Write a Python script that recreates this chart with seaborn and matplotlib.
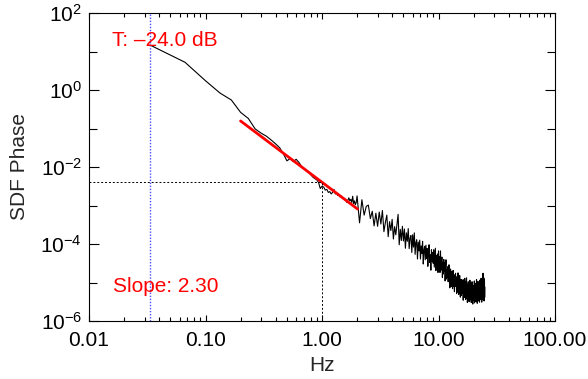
import numpy as np
import pandas as pd
import matplotlib
matplotlib.use("Agg")
import matplotlib.pyplot as plt
import seaborn as sns
from matplotlib.ticker import FixedLocator, FuncFormatter, NullFormatter

# ---------------- data ----------------
freq_low = [0.0333, 0.0667, 0.1000, 0.1333, 0.1667, 0.2000, 0.2333, 0.2667, 0.3000, 0.3333,
            0.3667, 0.4000, 0.4333, 0.4667, 0.5000, 0.5333, 0.5667, 0.6000, 0.6333, 0.6667,
            0.7000, 0.7333, 0.7667, 0.8000, 0.8333, 0.8667, 0.9000, 0.9333, 0.9667,
            1.0000, 1.0333, 1.0667, 1.1000, 1.1333, 1.1667, 1.2000, 1.2333, 1.2667, 1.3000,
            1.3333, 1.3667, 1.4000, 1.4333, 1.4667, 1.5000, 1.5333, 1.5667, 1.6000, 1.6333,
            1.6667, 1.7000, 1.7333, 1.7667, 1.8000, 1.8333, 1.8667, 1.9000, 1.9333, 1.9667]
# log10 of SDF values
log_sdf_low = [1.17, 0.72, 0.24, -0.08, -0.26, -0.58, -0.74, -1.01, -1.12, -1.20,
               -1.30, -1.40, -1.50, -1.66, -1.84, -1.78, -1.86, -1.80, -1.88, -1.98,
               -2.05, -2.08, -2.13, -2.20, -2.26, -2.30, -2.33, -2.40, -2.56,
               -2.50, -2.52, -2.60, -2.58, -2.66, -2.64, -2.70, -2.66, -2.58, -2.70,
               -2.68, -2.74, -2.72, -2.78, -2.76, -2.82, -2.80, -2.86, -2.84, -2.92,
               -2.86, -2.80, -2.88, -2.84, -2.92, -2.76, -2.95, -2.88, -2.98, -2.92]

freq_hi = [2.0, 2.1, 2.2, 2.3, 2.4, 2.5, 2.6, 2.7, 2.8, 2.9,
           3.0, 3.1, 3.2, 3.3, 3.4, 3.5, 3.6, 3.7, 3.8, 3.9,
           4.0, 4.1, 4.2, 4.3, 4.4, 4.5, 4.6, 4.7, 4.8, 4.9,
           5.0, 5.1, 5.2, 5.3, 5.4, 5.5, 5.6, 5.7, 5.8, 5.9,
           6.0, 6.1, 6.2, 6.3, 6.4, 6.5, 6.6, 6.7, 6.8, 6.9,
           7.0, 7.1, 7.2, 7.3, 7.4, 7.5, 7.6, 7.7, 7.8, 7.9,
           8.0, 8.1, 8.2, 8.3, 8.4, 8.5, 8.6, 8.7, 8.8, 8.9,
           9.0, 9.1, 9.2, 9.3, 9.4, 9.5, 9.6, 9.7, 9.8, 9.9,
           10.0, 10.1, 10.2, 10.3, 10.4, 10.5, 10.6, 10.7, 10.8, 10.9,
           11.0, 11.1, 11.2, 11.3, 11.4, 11.5, 11.6, 11.7, 11.8, 11.9,
           12.0, 12.1, 12.2, 12.3, 12.4, 12.5, 12.6, 12.7, 12.8, 12.9,
           13.0, 13.1, 13.2, 13.3, 13.4, 13.5, 13.6, 13.7, 13.8, 13.9,
           14.0, 14.1, 14.2, 14.3, 14.4, 14.5, 14.6, 14.7, 14.8, 14.9,
           15.0, 15.1, 15.2, 15.3, 15.4, 15.5, 15.6, 15.7, 15.8, 15.9,
           16.0, 16.1, 16.2, 16.3, 16.4, 16.5, 16.6, 16.7, 16.8, 16.9,
           17.0, 17.1, 17.2, 17.3, 17.4, 17.5, 17.6, 17.7, 17.8, 17.9,
           18.0, 18.1, 18.2, 18.3, 18.4, 18.5, 18.6, 18.7, 18.8, 18.9,
           19.0, 19.1, 19.2, 19.3, 19.4, 19.5, 19.6, 19.7, 19.8, 19.9,
           20.0, 20.1, 20.2, 20.3, 20.4, 20.5, 20.6, 20.7, 20.8, 20.9,
           21.0, 21.1, 21.2, 21.3, 21.4, 21.5, 21.6, 21.7, 21.8, 21.9,
           22.0, 22.1, 22.2, 22.3, 22.4, 22.5, 22.6, 22.7, 22.8, 22.9,
           23.0, 23.1, 23.2, 23.3, 23.4, 23.5, 23.6, 23.7, 23.8, 23.9,
           24.0, 24.1, 24.2, 24.3, 24.4, 24.5, 24.6, 24.7, 24.8, 24.9,
           25.0]
log_sdf_hi = [-2.75, -3.45, -2.85, -3.25, -3.02, -2.99, -3.34, -3.15, -3.53, -3.20,
              -3.54, -3.17, -3.48, -3.13, -3.68, -3.44, -3.25, -3.81, -3.42, -3.65,
              -3.36, -3.87, -3.55, -3.76, -3.48, -3.23, -4.02, -3.62, -3.91, -3.54,
              -3.92, -3.61, -4.11, -3.71, -3.93, -3.60, -4.12, -3.85, -3.78, -4.22,
              -3.76, -4.08, -3.71, -4.27, -3.96, -3.89, -4.39, -3.95, -4.18, -3.90,
              -4.39, -4.05, -4.25, -3.93, -4.52, -4.16, -4.06, -4.41, -4.03, -4.38,
              -4.12, -4.58, -4.23, -4.02, -4.48, -4.28, -4.68, -4.15, -4.44, -4.22,
              -4.50, -4.15, -4.60, -4.33, -4.11, -4.69, -4.30, -4.51, -4.26, -4.74,
              -4.18, -4.56, -4.33, -4.74, -4.18, -4.68, -4.48, -4.34, -4.87, -4.47,
              -4.78, -4.40, -4.71, -4.49, -4.96, -4.58, -4.41, -4.91, -4.68, -4.85,
              -4.59, -4.98, -4.71, -4.54, -4.94, -5.14, -4.70, -4.65, -5.11, -4.79,
              -5.02, -4.70, -5.16, -4.81, -4.69, -5.10, -4.90, -5.24, -4.80, -5.04,
              -4.76, -5.10, -4.92, -5.29, -4.85, -4.98, -5.25, -4.75, -5.12, -5.31,
              -4.93, -5.27, -4.82, -5.13, -5.38, -4.93, -5.03, -5.34, -4.92, -5.23,
              -4.94, -5.27, -5.09, -5.46, -4.93, -5.22, -5.03, -5.39, -4.89, -5.34,
              -5.08, -5.44, -4.97, -5.27, -4.88, -5.40, -5.16, -5.52, -5.05, -5.26,
              -4.98, -5.38, -5.14, -5.50, -5.05, -5.30, -4.94, -5.45, -5.18, -5.37,
              -5.04, -5.52, -5.13, -5.34, -4.98, -5.43, -5.16, -5.56, -5.08, -5.26,
              -5.46, -5.08, -5.31, -4.96, -5.53, -5.20, -5.02, -5.41, -5.13, -5.49,
              -5.10, -5.43, -4.92, -5.31, -5.16, -5.54, -5.04, -5.36, -4.97, -5.27,
              -5.48, -5.12, -5.00, -5.39, -5.18, -5.51, -4.94, -5.33, -5.06, -5.41,
              -5.14, -5.44, -4.89, -5.34, -5.01, -5.51, -5.09, -4.93, -5.35, -5.05,
              -5.36, -4.76, -5.45, -5.00, -5.27, -4.88, -5.48, -5.09, -4.94, -5.39,
              -5.12]

fit_hz = [0.20, 2.02]
fit_sdf = [0.157, 8.1e-4]

cutoff_hz = 0.0333        # blue dotted line
knee_hz = 1.0             # black dotted vertical
threshold_sdf = 3.98e-3   # black dotted horizontal (-24.0 dB)

x_ticks = [0.01, 0.1, 1.0, 10.0, 100.0]
y_ticks = [1e-6, 1e-4, 1e-2, 1e0, 1e2]
y_minor = [1e-5, 1e-3, 1e-1, 1e1]

label_T = "T: \u201324.0 dB"
label_slope = "Slope: 2.30"

# ---------------- plot ----------------
sns.set_style("ticks")
plt.rcParams["font.family"] = ["Liberation Sans", "DejaVu Sans"]
plt.rcParams["mathtext.fontset"] = "custom"
plt.rcParams["mathtext.rm"] = "Liberation Sans"
plt.rcParams["mathtext.default"] = "regular"

fig = plt.figure(figsize=(5.88, 3.79), dpi=100)
ax = fig.add_axes([89 / 588, 1 - 321 / 379, (555 - 89) / 588, (321 - 13) / 379])
ax.set_xscale("log")
ax.set_yscale("log")

df = pd.DataFrame({"Hz": freq_low + freq_hi,
                   "SDF": 10.0 ** np.array(log_sdf_low + log_sdf_hi)})
sns.lineplot(data=df, x="Hz", y="SDF", ax=ax, color="black", lw=0.8,
             estimator=None, sort=False)

fit_df = pd.DataFrame({"Hz": fit_hz, "SDF": fit_sdf})
sns.lineplot(data=fit_df, x="Hz", y="SDF", ax=ax, color="#ff0000", lw=2.0,
             estimator=None, sort=False)

ax.set_xlim(x_ticks[0], x_ticks[-1])
ax.set_ylim(y_ticks[0], y_ticks[-1])

ax.axvline(cutoff_hz, color="#4a4aff", ls=(0, (1, 1.2)), lw=1.0)
ax.hlines(threshold_sdf, x_ticks[0], knee_hz, color="black", ls=(0, (2, 2)), lw=0.7)
ax.vlines(knee_hz, y_ticks[0], threshold_sdf, color="black", ls=(0, (2, 2)), lw=0.7)

ax.text(0.049, 0.894, label_T, transform=ax.transAxes, color="#ff0000",
        fontsize=15, ha="left", va="baseline")
ax.text(0.051, 0.093, label_slope, transform=ax.transAxes, color="#ff0000",
        fontsize=15, ha="left", va="baseline")

ax.xaxis.set_major_locator(FixedLocator(x_ticks))
x_minor = [m * d for d in x_ticks[:-1] for m in range(2, 10)]
ax.xaxis.set_minor_locator(FixedLocator(x_minor))
ax.xaxis.set_major_formatter(FuncFormatter(lambda v, p: "%.2f" % v))
ax.xaxis.set_minor_formatter(NullFormatter())

ax.yaxis.set_major_locator(FixedLocator(y_ticks))
ax.yaxis.set_minor_locator(FixedLocator(y_minor))
ax.yaxis.set_major_formatter(FuncFormatter(
    lambda v, p: r"$\mathregular{10^{%d}}$" % int(round(np.log10(v)))))
ax.yaxis.set_minor_formatter(NullFormatter())

ax.tick_params(which="both", direction="in", top=True, right=True,
               labelsize=15, colors="black", width=0.8)
ax.tick_params(axis="x", which="major", length=4.5, pad=7.5)
ax.tick_params(axis="x", which="minor", length=2.6)
ax.tick_params(axis="y", which="major", length=7.2, pad=5)
ax.tick_params(axis="y", which="minor", length=5.5)

for s in ax.spines.values():
    s.set_linewidth(0.8)
    s.set_color("black")
    s.set_visible(True)

ax.set_xlabel("Hz", fontsize=15, labelpad=4)
ax.set_ylabel("SDF Phase", fontsize=15, labelpad=8)

fig.savefig("out.png", dpi=100)
